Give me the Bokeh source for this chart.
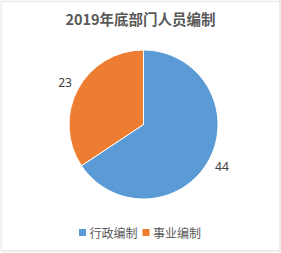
import math
from bokeh.plotting import figure
from bokeh.models import Range1d, ColumnDataSource
from bokeh.core.properties import value
from bokeh.embed import file_html
from bokeh.resources import INLINE

title_text = "2019年底部门人员编制"
categories = ["行政编制", "事业编制"]
values = [44, 23]
colors = ["#5B9BD5", "#ED7D31"]

W, H = 281, 253
p = figure(width=W, height=H, output_backend="svg", toolbar_location=None,
           x_range=Range1d(0, W), y_range=Range1d(0, H), min_border=0)
p.axis.visible = False
p.grid.visible = False
p.outline_line_color = None
p.background_fill_color = "white"
p.border_fill_color = "white"

# chart border
p.quad(left=[0.5], right=[279.5], bottom=[H - 250.5], top=[H - 0.5],
       fill_color=None, line_color="#d9d9d9", line_width=1)

cx, cy, r = 143, H - 124, 74.5
total = sum(values)
starts, ends, mids = [], [], []
a = math.pi / 2
for v in values:
    span = 2 * math.pi * v / total
    starts.append(a)
    ends.append(a - span)
    mids.append(a - span / 2)
    a -= span

src = ColumnDataSource(dict(start=starts, end=ends, color=colors))
p.wedge(x=cx, y=cy, radius=r, start_angle="start", end_angle="end",
        direction="clock", fill_color="color", line_color="white",
        line_width=1, source=src)

lr = 89
p.text(x=[cx + lr * math.cos(m) for m in mids], y=[cy + lr * math.sin(m) for m in mids],
       text=[str(v) for v in values], text_align="center", text_baseline="middle",
       text_font=value("Noto Sans"), text_font_size="12px", text_color="#404040")

p.text(x=[140], y=[H - 18], text=[title_text], text_align="center",
       text_baseline="middle", text_font=value("Noto Sans CJK SC"),
       text_font_style="bold", text_font_size="14.5px", text_color="#595959")

# legend
lx = [82, 145.5]
ly = H - 232
p.scatter(x=lx, y=[ly, ly], marker="square", size=7, fill_color=colors, line_color=None)
p.text(x=[x + 7 for x in lx], y=[ly, ly], text=categories, text_align="left",
       text_baseline="middle", text_font=value("Noto Sans CJK SC"),
       text_font_size="12px", text_color="#595959")

open("out.html", "w").write(file_html(p, INLINE))
